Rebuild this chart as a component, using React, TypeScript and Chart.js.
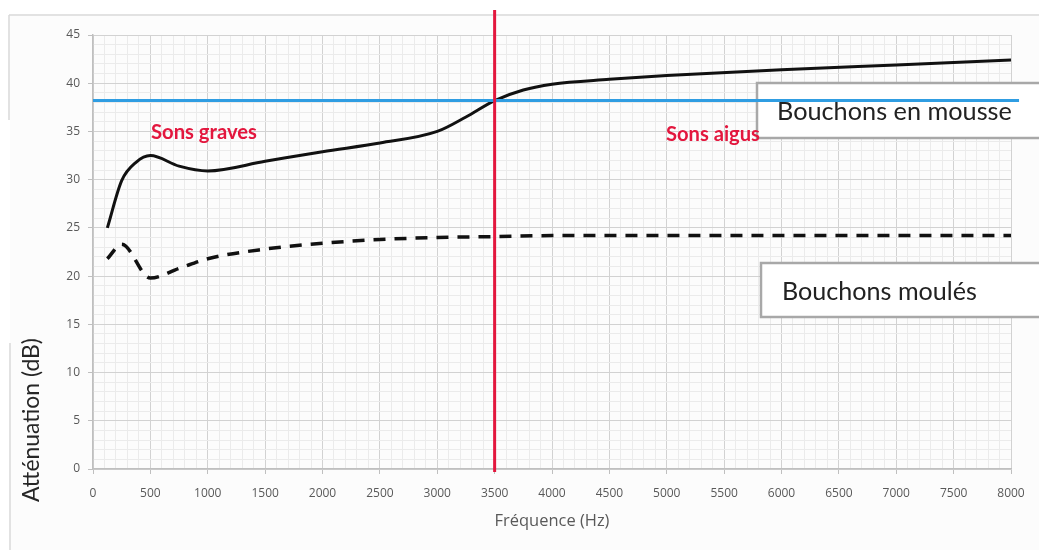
import React, { useEffect, useRef } from 'react';
import { Chart, registerables } from 'chart.js';

Chart.register(...registerables);

// Frequencies (Hz) and attenuation (dB)
const freqMousse = [125, 250, 375, 500, 750, 1000, 1500, 2000, 2500, 3000, 3250, 3500, 3750, 4000, 4500, 5000, 6000, 7000, 8000];
const attMousse = [25, 29.9, 31.8, 32.5, 31.4, 30.9, 31.9, 32.9, 33.8, 35.0, 36.5, 38.2, 39.3, 39.9, 40.4, 40.8, 41.4, 41.9, 42.4];

const freqMoules = [125, 250, 500, 750, 1000, 1500, 2000, 2500, 3000, 3500, 4000, 5000, 6000, 7000, 8000];
const attMoules = [21.8, 23.3, 19.8, 20.8, 21.8, 22.8, 23.4, 23.8, 24.0, 24.1, 24.2, 24.2, 24.2, 24.2, 24.2];

// Reference lines
const seuilX = [0, 8070];
const seuilY = [38.2, 38.2];
const coupureX = [3500, 3500];
const coupureY = [-0.3, 47.6];

const xTitle = 'Fréquence (Hz)';
const yTitle = 'Atténuation (dB)';
const labelMousse = 'Bouchons en mousse';
const labelMoules = 'Bouchons moulés';
const labelGraves = 'Sons graves';
const labelAigus = 'Sons aigus';

const RED = '#e3173e';
const TICK_FONT = 'Open Sans';
const TEXT_FONT = 'Lato';

function fitFont(ctx: CanvasRenderingContext2D, text: string, weight: string, family: string, width: number) {
  ctx.font = `${weight} 100px "${family}"`;
  const w = ctx.measureText(text).width;
  const size = (100 * width) / w;
  ctx.font = `${weight} ${size}px "${family}"`;
}

const decor = {
  id: 'decor',
  beforeDraw(chart: any) {
    const ctx = chart.ctx as CanvasRenderingContext2D;
    ctx.save();
    ctx.fillStyle = '#ffffff';
    ctx.fillRect(0, 0, chart.width, chart.height);
    ctx.fillStyle = '#fcfcfc';
    ctx.fillRect(10, 16, chart.width - 10, 104);
    ctx.fillRect(10, 120, chart.width - 10, chart.height - 120);
    ctx.strokeStyle = '#d9d9d9';
    ctx.lineWidth = 1.5;
    ctx.beginPath();
    ctx.moveTo(9, 15);
    ctx.lineTo(chart.width, 15);
    ctx.moveTo(9, 15);
    ctx.lineTo(9, 120);
    ctx.moveTo(10, 343);
    ctx.lineTo(10, chart.height);
    ctx.stroke();
    ctx.restore();
  },
  beforeDatasetsDraw(chart: any) {
    const ctx = chart.ctx as CanvasRenderingContext2D;
    ctx.save();
    const boxes = [
      { x: 757, y: 83, h: 55, text: labelMousse, tx: 777, ty: 120, tw: 235 },
      { x: 761, y: 263, h: 54, text: labelMoules, tx: 782, ty: 300, tw: 195 },
    ];
    for (const b of boxes) {
      ctx.fillStyle = '#ffffff';
      ctx.fillRect(b.x, b.y, chart.width - b.x + 10, b.h);
      ctx.strokeStyle = '#a8a8a8';
      ctx.lineWidth = 2.5;
      ctx.strokeRect(b.x, b.y, chart.width - b.x + 10, b.h);
      fitFont(ctx, b.text, 'normal', TEXT_FONT, b.tw);
      ctx.fillStyle = '#222222';
      ctx.textAlign = 'left';
      ctx.textBaseline = 'alphabetic';
      ctx.fillText(b.text, b.tx, b.ty);
    }
    ctx.restore();
  },
  afterDatasetsDraw(chart: any) {
    const ctx = chart.ctx as CanvasRenderingContext2D;
    ctx.save();
    ctx.fillStyle = RED;
    ctx.textAlign = 'left';
    ctx.textBaseline = 'alphabetic';
    fitFont(ctx, labelGraves, 'bold', TEXT_FONT, 106);
    ctx.fillText(labelGraves, 151, 139);
    fitFont(ctx, labelAigus, 'bold', TEXT_FONT, 94);
    ctx.fillText(labelAigus, 666, 141);

    ctx.fillStyle = '#595959';
    ctx.textAlign = 'center';
    ctx.textBaseline = 'middle';
    fitFont(ctx, xTitle, 'normal', TICK_FONT, 115);
    ctx.fillText(xTitle, 552, 521);

    ctx.translate(32, 420);
    ctx.rotate(-Math.PI / 2);
    ctx.fillStyle = '#262626';
    fitFont(ctx, yTitle, 'normal', TEXT_FONT, 164);
    ctx.fillText(yTitle, 0, 0);
    ctx.restore();
  },
};

const isMajorX = (v: number) => Math.round(v) % 500 === 0;
const isMajorY = (v: number) => Math.round(v) % 5 === 0;

export default function App() {
  const ref = useRef<HTMLCanvasElement | null>(null);

  useEffect(() => {
    if (!ref.current) return;
    const chart = new Chart(ref.current, {
      type: 'line',
      data: {
        datasets: [
          {
            label: labelMousse,
            data: freqMousse.map((x, i) => ({ x, y: attMousse[i] })),
            borderColor: '#111111',
            borderWidth: 3,
            pointRadius: 0,
            cubicInterpolationMode: 'monotone',
            order: 3,
          },
          {
            label: labelMoules,
            data: freqMoules.map((x, i) => ({ x, y: attMoules[i] })),
            borderColor: '#111111',
            borderWidth: 3.5,
            borderDash: [12, 9],
            pointRadius: 0,
            cubicInterpolationMode: 'monotone',
            order: 2,
          },
          {
            label: 'seuil',
            data: seuilX.map((x, i) => ({ x, y: seuilY[i] })),
            borderColor: '#2f9de2',
            borderWidth: 3,
            pointRadius: 0,
            clip: false,
            order: 1,
          },
          {
            label: 'coupure',
            data: coupureX.map((x, i) => ({ x, y: coupureY[i] })),
            borderColor: RED,
            borderWidth: 3,
            pointRadius: 0,
            clip: false,
            order: 0,
          },
        ],
      },
      options: {
        responsive: false,
        animation: false,
        layout: { padding: { left: 0, top: 35, right: 28, bottom: 0 } },
        plugins: { legend: { display: false }, tooltip: { enabled: false } },
        scales: {
          x: {
            type: 'linear',
            min: 0,
            max: 8000,
            afterFit: (s: any) => {
              s.height = 81;
            },
            ticks: {
              stepSize: 100,
              autoSkip: false,
              maxTicksLimit: 1000,
              maxRotation: 0,
              padding: 12,
              color: '#595959',
              font: { family: TICK_FONT, size: 12 },
              callback: (v: any) => (isMajorX(Number(v)) ? String(Math.round(Number(v))) : ''),
            },
            grid: {
              color: (c: any) => (c.tick && isMajorX(c.tick.value) ? '#d2d2d2' : '#ebebeb'),
              tickColor: (c: any) => (c.tick && isMajorX(c.tick.value) ? '#bfbfbf' : 'rgba(0,0,0,0)'),
              tickLength: 5,
              lineWidth: 1,
            },
            border: { color: '#bfbfbf', width: 1.5 },
          },
          y: {
            type: 'linear',
            min: 0,
            max: 45,
            afterFit: (s: any) => {
              s.width = 93;
            },
            ticks: {
              stepSize: 1,
              autoSkip: false,
              maxTicksLimit: 1000,
              padding: 8,
              color: '#595959',
              font: { family: TICK_FONT, size: 12 },
              callback: (v: any) => (isMajorY(Number(v)) ? String(Math.round(Number(v))) : ''),
            },
            grid: {
              color: (c: any) => (c.tick && isMajorY(c.tick.value) ? '#d2d2d2' : '#ebebeb'),
              tickColor: (c: any) => (c.tick && isMajorY(c.tick.value) ? '#bfbfbf' : 'rgba(0,0,0,0)'),
              tickLength: 5,
              lineWidth: 1,
            },
            border: { color: '#bfbfbf', width: 1.5 },
          },
        },
      },
      plugins: [decor],
    } as any);
    return () => chart.destroy();
  }, []);

  return (
    <div style={{ position: 'absolute', left: 0, top: 0, width: 1039, height: 550 }}>
      <canvas ref={ref} width={1039} height={550} style={{ display: 'block' }} />
    </div>
  );
}
